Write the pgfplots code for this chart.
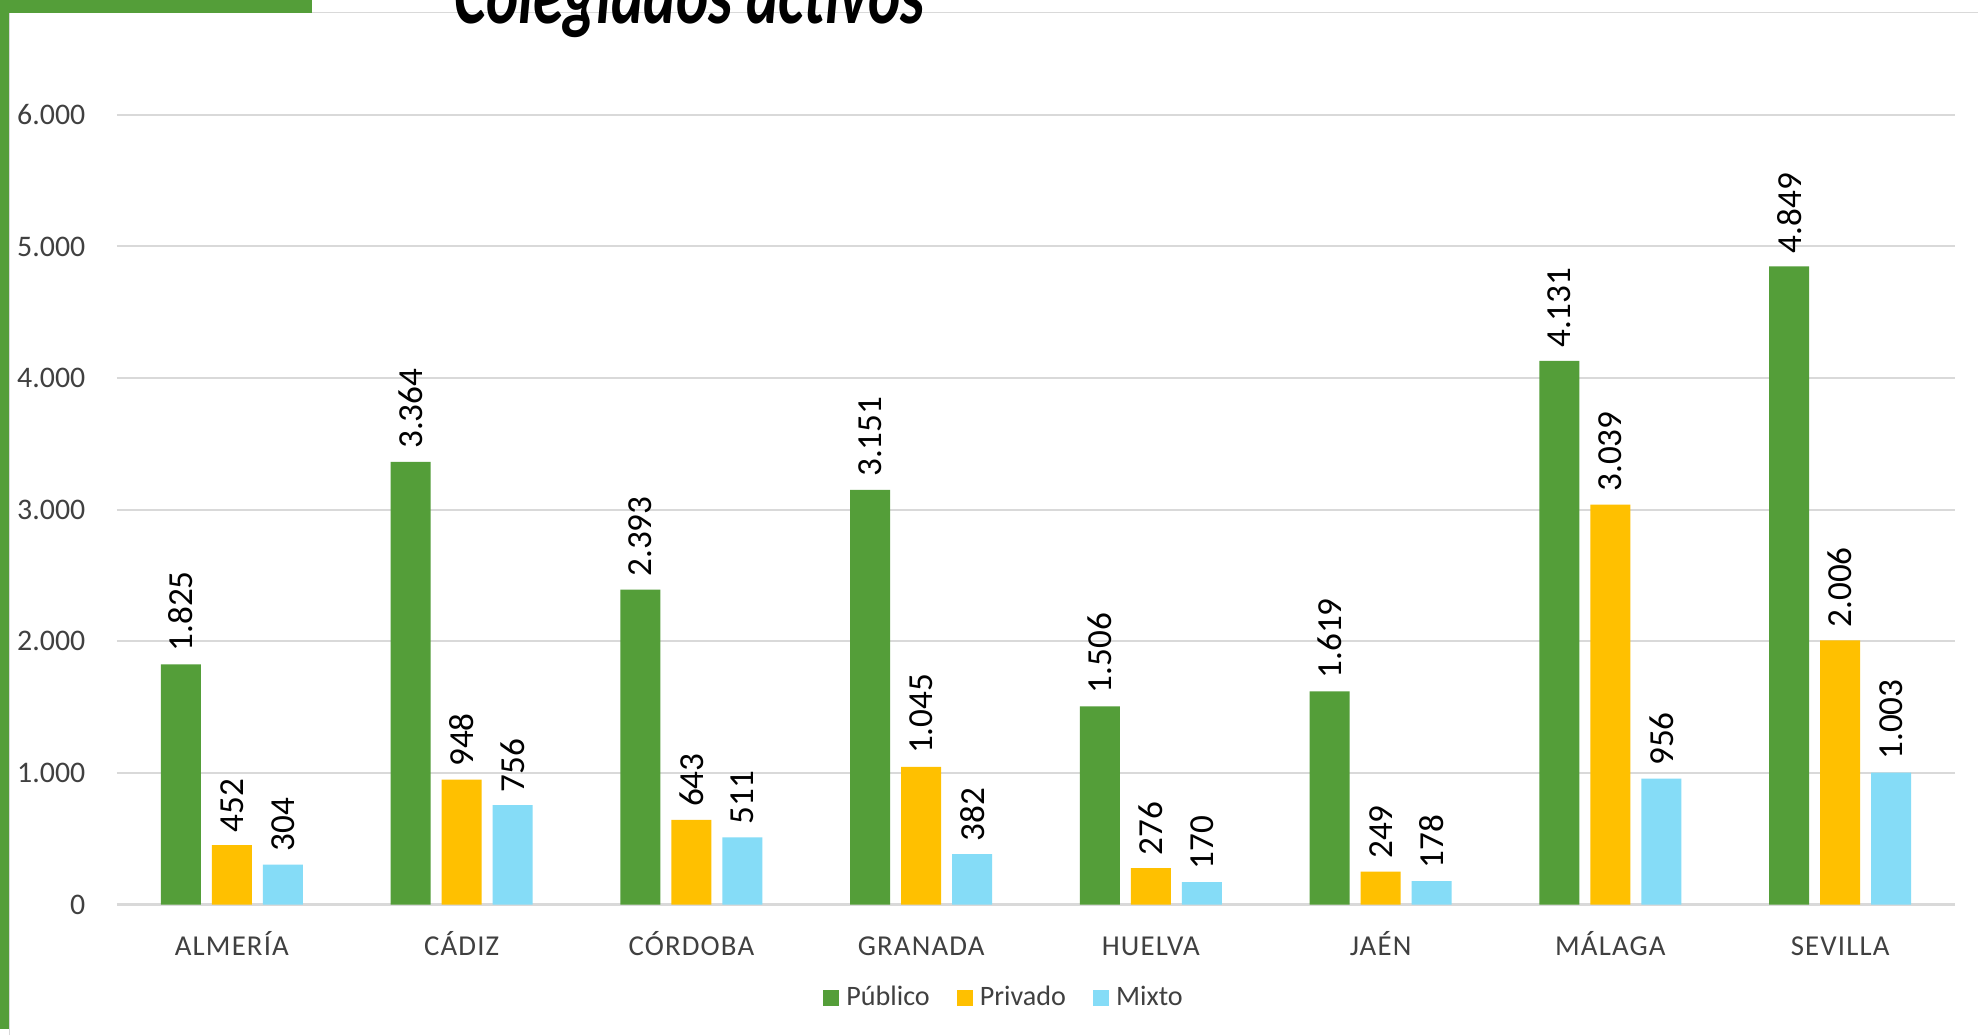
\documentclass[border=0pt]{standalone}
\usepackage{fontspec}
\setmainfont{Carlito}
\newfontfamily\catfont[LetterSpace=4]{Carlito}
\usepackage{graphicx}
\usepackage{pgfplots}
\pgfplotsset{compat=1.18}

\definecolor{pub}{HTML}{549E39}
\definecolor{pri}{HTML}{FFC000}
\definecolor{mix}{HTML}{85DCF7}
\definecolor{gridc}{HTML}{D9D9D9}
\definecolor{txt}{HTML}{404040}

\begin{document}
\begin{tikzpicture}
\useasboundingbox (0,0) rectangle (19.78,10.35);
\fill[white] (0,0) rectangle (19.78,10.35);
% frame of the slide
\draw[gridc, line width=0.5pt] (3.12,10.225) -- (19.78,10.225);
\draw[gridc, line width=0.4pt] (0.095,0) -- (0.095,10.35);
\fill[pub] (0,0.06) rectangle (0.085,10.35);
\fill[pub] (0,10.22) rectangle (3.12,10.35);
\node[anchor=base west, inner sep=0pt] at (4.54,10.12)
  {\resizebox{4.70cm}{\height}{\fontsize{24}{28}\selectfont\bfseries\itshape Colegiados activos}};

\begin{axis}[
  at={(1.17cm,1.305cm)}, anchor=south west,
  scale only axis,
  width=18.38cm, height=7.897cm,
  ybar, bar width=0.40cm,
  xmin=-0.5, xmax=7.5, ymin=0, ymax=6000,
  xtick={0,...,7},
  xticklabels={ALMERÍA,CÁDIZ,CÓRDOBA,GRANADA,HUELVA,JAÉN,MÁLAGA,SEVILLA},
  ytick={0,1000,...,6000},
  scaled y ticks=false,
  /pgf/number format/1000 sep={.},
  /pgf/number format/assume math mode=true,
  axis line style={draw=none},
  major tick length=0pt,
  ymajorgrids, grid style={color=gridc, line width=0.6pt},
  xticklabel style={anchor=base, yshift=-0.505cm, font=\fontsize{8.2}{10}\selectfont\catfont, text=txt},
  yticklabel style={anchor=east, inner sep=0pt, xshift=-0.31cm, font=\fontsize{8.5}{10}\selectfont, text=txt},
  nodes near coords,
  every node near coord/.append style={rotate=90, anchor=west, inner xsep=3.5pt, inner ysep=0pt,
    font=\fontsize{10}{12}\selectfont, text=black},
  legend image code/.code={\fill[#1] (0cm,-0.08cm) rectangle (0.16cm,0.08cm);},
  legend style={at={(0.484,-0.119)}, anchor=center, draw=none, fill=none,
    legend columns=3, font=\fontsize{8}{10}\selectfont, text=txt,
    /tikz/every odd column/.append style={column sep=0pt},
    /tikz/every even column/.append style={column sep=0.2cm}},
]
\addplot[fill=pub, draw=none, bar shift=-0.51cm] coordinates
  {(0,1825) (1,3364) (2,2393) (3,3151) (4,1506) (5,1619) (6,4131) (7,4849)};
\addplot[fill=pri, draw=none, bar shift=0cm] coordinates
  {(0,452) (1,948) (2,643) (3,1045) (4,276) (5,249) (6,3039) (7,2006)};
\addplot[fill=mix, draw=none, bar shift=0.51cm] coordinates
  {(0,304) (1,756) (2,511) (3,382) (4,170) (5,178) (6,956) (7,1003)};
\legend{Público,Privado,Mixto}
\end{axis}
\end{tikzpicture}
\end{document}
